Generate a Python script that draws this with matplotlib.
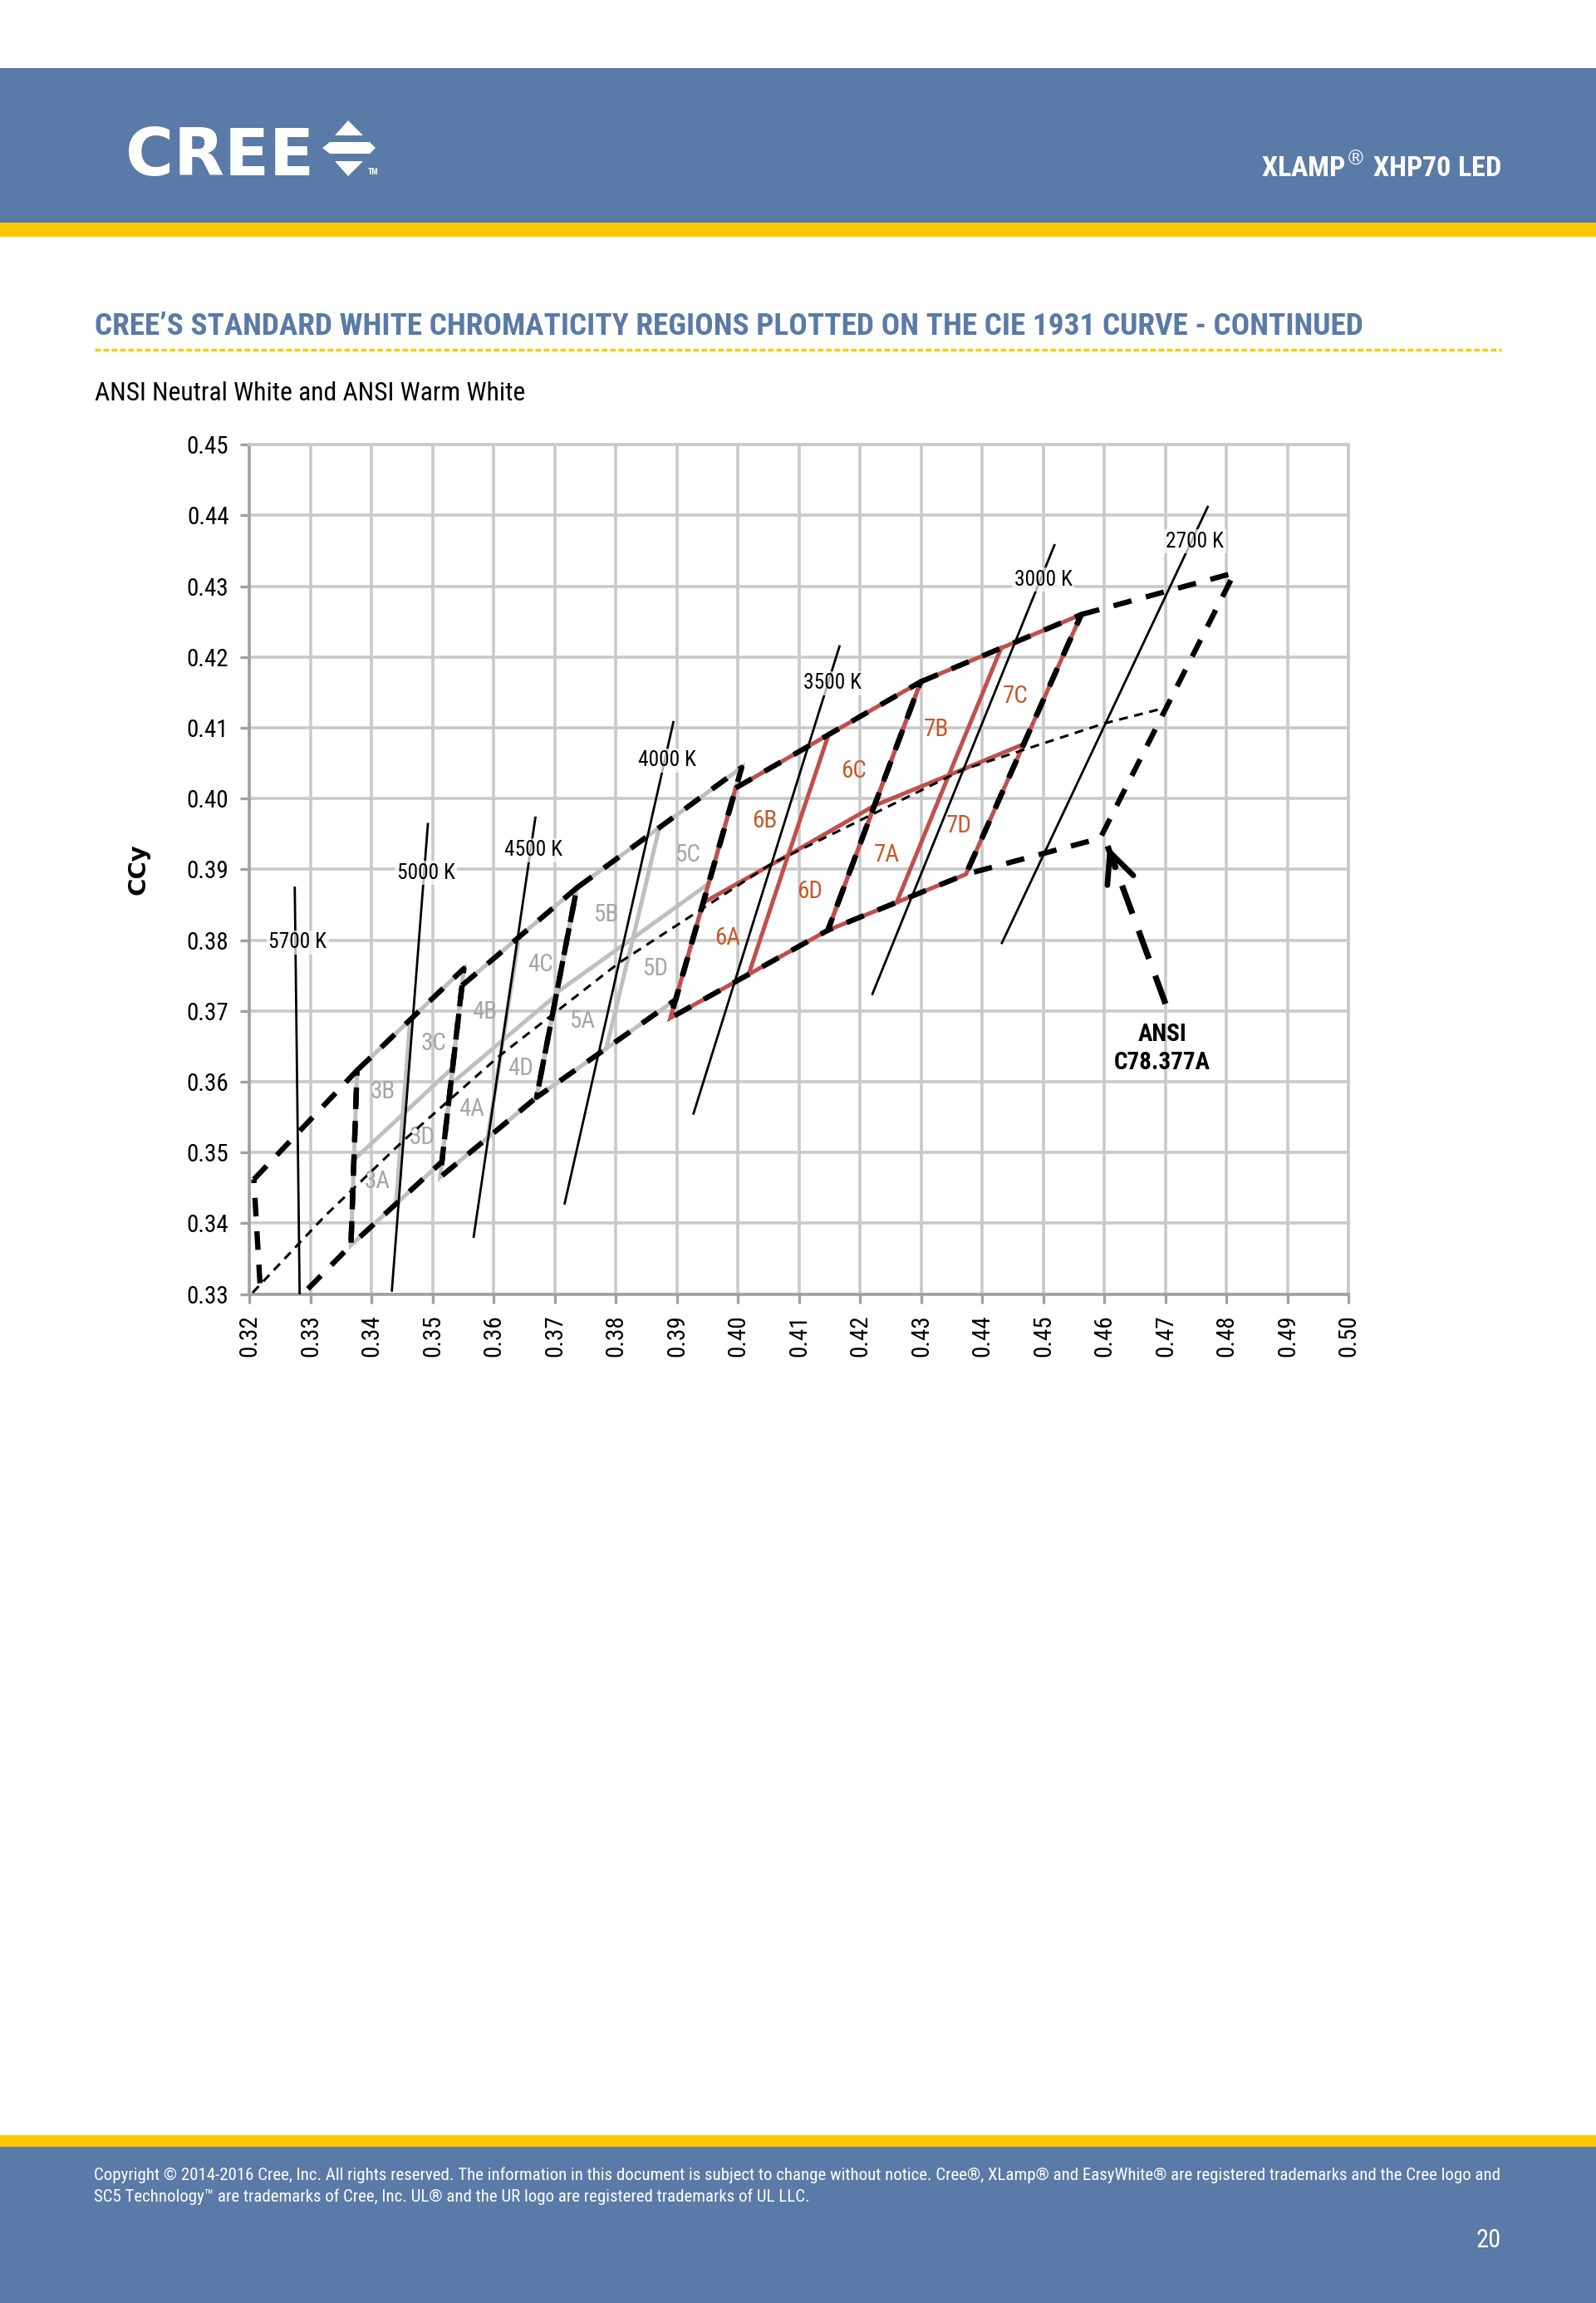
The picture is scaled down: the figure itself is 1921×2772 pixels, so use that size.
import matplotlib
matplotlib.use("Agg")
import matplotlib.pyplot as plt
from matplotlib.patches import Rectangle, Polygon
from matplotlib.lines import Line2D

plt.rcParams['font.family'] = ['Roboto Condensed', 'Roboto', 'DejaVu Sans']

# ANSI C78.377A quadrangles, corners: top-left, top-right, bottom-right, bottom-left
ansi_x = [
    [0.3207, 0.3376, 0.3366, 0.3222],
    [0.3376, 0.3551, 0.3515, 0.3366],
    [0.3548, 0.3736, 0.3670, 0.3512],
    [0.3736, 0.4006, 0.3898, 0.3670],
    [0.3996, 0.4299, 0.4147, 0.3889],
    [0.4299, 0.4562, 0.4373, 0.4147],
    [0.4562, 0.4813, 0.4593, 0.4373],
]
ansi_y = [
    [0.3462, 0.3616, 0.3369, 0.3243],
    [0.3616, 0.3760, 0.3487, 0.3369],
    [0.3736, 0.3874, 0.3578, 0.3465],
    [0.3874, 0.4044, 0.3716, 0.3578],
    [0.4015, 0.4165, 0.3814, 0.3690],
    [0.4165, 0.4260, 0.3893, 0.3814],
    [0.4260, 0.4319, 0.3944, 0.3893],
]

# Cree regions: which ANSI quad they split, and the two dividing lines
cree_parent = [1, 2, 3, 4, 5]
cree_red = [False, False, False, True, True]
cree_h_x = [[0.3371, 0.3451, 0.3533], [0.3530, 0.3615, 0.3702], [0.3703, 0.3828, 0.3952],
            [0.3943, 0.4082, 0.4223], [0.4223, 0.4345, 0.4468]]
cree_h_y = [[0.3490, 0.3554, 0.3620], [0.3597, 0.3659, 0.3722], [0.3726, 0.3803, 0.3880],
            [0.3853, 0.3920, 0.3990], [0.3990, 0.4033, 0.4077]]
cree_v_x = [[0.3463, 0.3451, 0.3440], [0.3641, 0.3615, 0.3590], [0.3871, 0.3828, 0.3784],
            [0.4148, 0.4082, 0.4017], [0.4431, 0.4345, 0.4260]]
cree_v_y = [[0.3687, 0.3554, 0.3428], [0.3804, 0.3659, 0.3521], [0.3959, 0.3803, 0.3647],
            [0.4090, 0.3920, 0.3751], [0.4213, 0.4033, 0.3854]]

bin_names = ['3A', '3B', '3C', '3D', '4A', '4B', '4C', '4D', '5A', '5B', '5C', '5D',
             '6A', '6B', '6C', '6D', '7A', '7B', '7C', '7D']
bin_lx = [0.3409, 0.3418, 0.3502, 0.3483, 0.3563, 0.3585, 0.3676, 0.3644, 0.3746, 0.3785,
          0.3918, 0.3866, 0.3983, 0.4043, 0.4190, 0.4117, 0.4244, 0.4324, 0.4454, 0.4362]
bin_ly = [0.3459, 0.3586, 0.3654, 0.3521, 0.3561, 0.3699, 0.3765, 0.3619, 0.3686, 0.3836,
          0.3920, 0.3760, 0.3803, 0.3969, 0.4039, 0.3869, 0.3920, 0.4098, 0.4145, 0.3961]

# CCT isotherms (top point, bottom point) and label positions
iso_names = ['5700 K', '5000 K', '4500 K', '4000 K', '3500 K', '3000 K', '2700 K']
iso_x_top = [0.3274, 0.3492, 0.3668, 0.3894, 0.4166, 0.4518, 0.4769]
iso_y_top = [0.3874, 0.3964, 0.3973, 0.4108, 0.4215, 0.4358, 0.4412]
iso_x_bot = [0.3282, 0.3433, 0.3567, 0.3716, 0.3927, 0.4220, 0.4432]
iso_y_bot = [0.3300, 0.3305, 0.3381, 0.3428, 0.3555, 0.3724, 0.3796]
iso_lx = [0.3279, 0.3489, 0.3665, 0.3884, 0.4154, 0.4500, 0.4748]
iso_ly = [0.3797, 0.3895, 0.3927, 0.4054, 0.4163, 0.4309, 0.4363]

# black body locus
locus_x = [0.3205, 0.3323, 0.3451, 0.3607, 0.3805, 0.4053, 0.4369, 0.4599, 0.4703]
locus_y = [0.3302, 0.3410, 0.3516, 0.3635, 0.3768, 0.3907, 0.4041, 0.4106, 0.4129]

# ANSI callout arrow (tail, head)
arrow_x = [0.4700, 0.4605]
arrow_y = [0.3710, 0.3933]

x_ticks = [0.32, 0.33, 0.34, 0.35, 0.36, 0.37, 0.38, 0.39, 0.40, 0.41,
           0.42, 0.43, 0.44, 0.45, 0.46, 0.47, 0.48, 0.49, 0.50]
y_ticks = [0.33, 0.34, 0.35, 0.36, 0.37, 0.38, 0.39, 0.40, 0.41, 0.42, 0.43, 0.44, 0.45]

BLUE = '#5a7aa7'
YELLOW = '#fcc800'
GRAY_BIN = '#bfbfbf'
RED_BIN = '#c0504d'
RED_TXT = '#c55a2a'
GRAY_TXT = '#a6a6a6'

W, H = 1921, 2772
fig = plt.figure(figsize=(W / 200, H / 200), dpi=200)


def fxy(px, py):
    return px / W, 1 - py / H


# ---- page header ----
fig.add_artist(Rectangle((0, 1 - 268 / H), 1, 186 / H, transform=fig.transFigure,
                         facecolor=BLUE, edgecolor='none'))
fig.add_artist(Rectangle((0, 1 - 285 / H), 1, 17 / H, transform=fig.transFigure,
                         facecolor=YELLOW, edgecolor='none'))
fig.text(*fxy(151, 211), 'CREE', color='white', fontsize=28.5, fontweight='bold',
         family='DejaVu Sans', ha='left', va='baseline')
for tri in ([(419, 145), (403, 163), (437, 163)],
            [(388, 178), (397, 171), (445, 171), (452, 178), (445, 185), (397, 185)],
            [(403, 194), (437, 194), (419, 212)]):
    fig.add_artist(Polygon([fxy(a, b) for a, b in tri], closed=True,
                           transform=fig.transFigure, facecolor='white', edgecolor='none'))
fig.text(*fxy(443, 210), 'TM', color='white', fontsize=3.5, fontweight='bold',
         ha='left', va='baseline')
fig.text(*fxy(1807, 213), 'XLAMP$^{\u00ae}$ XHP70 LED', color='white', fontsize=12.3,
         fontweight='bold', ha='right', va='baseline')

fig.text(*fxy(114, 403), 'CREE\u2019S STANDARD WHITE CHROMATICITY REGIONS PLOTTED ON THE CIE 1931 CURVE - CONTINUED',
         color=BLUE, fontsize=13.4, fontweight='bold', ha='left', va='baseline')
fig.add_artist(Line2D([114 / W, 1807 / W], [1 - 421 / H] * 2, transform=fig.transFigure,
                      color=YELLOW, lw=1.2, linestyle=(0, (2, 1))))
fig.text(*fxy(114, 482), 'ANSI Neutral White and ANSI Warm White', color='black',
         fontsize=11.4, ha='left', va='baseline')

# ---- page footer ----
fig.add_artist(Rectangle((0, 1 - 2584 / H), 1, 14 / H, transform=fig.transFigure,
                         facecolor=YELLOW, edgecolor='none'))
fig.add_artist(Rectangle((0, 0), 1, 1 - 2584 / H, transform=fig.transFigure,
                         facecolor=BLUE, edgecolor='none'))
fig.text(*fxy(113, 2624),
         'Copyright \u00a9 2014-2016 Cree, Inc. All rights reserved. The information in this document is subject to change '
         'without notice. Cree\u00ae, XLamp\u00ae and EasyWhite\u00ae are registered trademarks and the Cree logo and',
         color='white', fontsize=7.5, ha='left', va='baseline')
fig.text(*fxy(113, 2650),
         'SC5 Technology\u2122 are trademarks of Cree, Inc. UL\u00ae and the UR logo are registered trademarks of UL LLC.',
         color='white', fontsize=7.5, ha='left', va='baseline')
fig.text(*fxy(1807, 2705), '20', color='white', fontsize=11, ha='right', va='baseline')

# ---- chart ----
ax = fig.add_axes([300.4 / W, 1 - 1557.6 / H, 1323 / W, 1022.4 / H])
ax.set_xlim(0.32, 0.50)
ax.set_ylim(0.33, 0.45)
ax.set_xticks(x_ticks)
ax.set_yticks(y_ticks)
ax.set_xticklabels([f'{v:.2f}' for v in x_ticks], rotation=90, fontsize=10.5)
ax.set_yticklabels([f'{v:.2f}' for v in y_ticks], fontsize=10.5)
ax.grid(True, color='#c9c9c9', lw=1.3)
ax.set_axisbelow(True)
for side in ('top', 'right'):
    ax.spines[side].set_color('#c9c9c9')
    ax.spines[side].set_linewidth(1.3)
for side in ('left', 'bottom'):
    ax.spines[side].set_color('#a0a0a0')
    ax.spines[side].set_linewidth(1.3)
ax.tick_params(length=4, width=1.2, color='#a0a0a0', pad=5)
ax.set_ylabel('CCy', fontsize=10.5, fontweight='bold', family='DejaVu Sans', labelpad=16)

# Cree regions (gray / red), drawn under the ANSI outlines
for k, p in enumerate(cree_parent):
    col = RED_BIN if cree_red[k] else GRAY_BIN
    ax.plot(ansi_x[p] + ansi_x[p][:1], ansi_y[p] + ansi_y[p][:1], color=col, lw=1.8,
            zorder=2, solid_joinstyle='miter')
    ax.plot(cree_h_x[k], cree_h_y[k], color=col, lw=1.8, zorder=2)
    ax.plot(cree_v_x[k], cree_v_y[k], color=col, lw=1.8, zorder=2)

for name, lx, ly in zip(bin_names, bin_lx, bin_ly):
    col = RED_TXT if name[0] in '67' else GRAY_TXT
    ax.text(lx, ly, name, color=col, fontsize=10.5, ha='center', va='center', zorder=3)

# ANSI quadrangles
for qx, qy in zip(ansi_x, ansi_y):
    ax.plot(qx + qx[:1], qy + qy[:1], color='black', lw=2.3,
            linestyle=(0, (3.5, 2.8)), zorder=4)

# black body locus
ax.plot(locus_x, locus_y, color='black', lw=1.1, linestyle=(0, (3.5, 2.6)), zorder=5)

# isotherms
for n, x0, y0, x1, y1, lx, ly in zip(iso_names, iso_x_top, iso_y_top, iso_x_bot, iso_y_bot,
                                     iso_lx, iso_ly):
    ax.plot([x0, x1], [y0, y1], color='black', lw=1.0, zorder=5)
    ax.text(lx, ly, n, fontsize=9.2, ha='center', va='center', zorder=6,
            bbox=dict(boxstyle='square,pad=0.1', facecolor='white', edgecolor='none', alpha=0.7))

# ANSI callout
ax.plot(arrow_x, arrow_y, color='black', lw=2.6, linestyle=(0, (5, 3)), zorder=6)
ax.annotate('', xy=(arrow_x[1], arrow_y[1]), xytext=(0.4618, 0.3903),
            arrowprops=dict(arrowstyle='->,head_length=1.3,head_width=0.6', lw=2.4,
                            color='black', shrinkA=0, shrinkB=0), zorder=7)
ax.text(0.4695, 0.3647, 'ANSI\nC78.377A', fontsize=10.5, fontweight='bold', ha='center',
        va='center', linespacing=1.3, zorder=7)

fig.savefig('out.png', dpi=200)
